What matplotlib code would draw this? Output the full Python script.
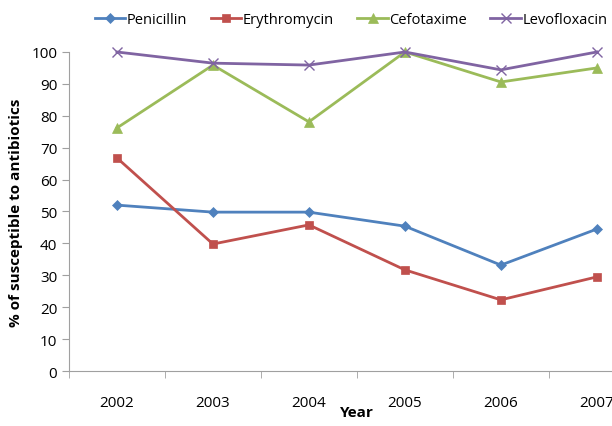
import matplotlib.pyplot as plt
import numpy as np

years = ["2002", "2003", "2004", "2005", "2006", "2007"]
penicillin = [52.0, 49.8, 49.8, 45.4, 33.2, 44.5]
erythromycin = [66.8, 39.8, 45.8, 31.7, 22.3, 29.5]
cefotaxime = [76.2, 95.9, 78.1, 100.0, 90.6, 95.0]
levofloxacin = [100.0, 96.5, 95.9, 100.0, 94.4, 100.0]

plt.rcParams['font.family'] = ['Open Sans', 'DejaVu Sans']

fig = plt.figure(figsize=(6.12, 4.27), dpi=100)
# the plot area runs past the right edge of the figure
ax = fig.add_axes([0.1127, 0.1288, 0.941, 0.7471])

x = np.arange(len(years)) + 1
series = [
    ("Penicillin", penicillin, "#4F81BD", "D", 5),
    ("Erythromycin", erythromycin, "#C0504D", "s", 6),
    ("Cefotaxime", cefotaxime, "#9BBB59", "^", 7),
    ("Levofloxacin", levofloxacin, "#8064A2", "x", 7),
]
for name, vals, col, mk, ms in series:
    ax.plot(x, vals, color=col, lw=2, marker=mk, markersize=ms,
            markeredgewidth=1 if mk == "x" else 0.5, label=name, clip_on=False)

ax.set_xlim(0.5, 6.5)
ax.set_ylim(0, 100)
ax.set_yticks(range(0, 101, 10))
ax.set_xticks(x)
ax.set_xticklabels(years, fontsize=11)
ax.set_xticks(np.arange(0.5, 7, 1), minor=True)
ax.tick_params(axis="x", which="major", length=0, pad=17)
ax.tick_params(axis="x", which="minor", length=5, color="#A0A0A0")
ax.tick_params(axis="y", length=5, color="#A0A0A0", labelsize=11)

for side in ["top", "right"]:
    ax.spines[side].set_visible(False)
for side in ["left", "bottom"]:
    ax.spines[side].set_color("#A0A0A0")

ax.set_ylabel("% of susceptible to antibiotics", fontsize=11, fontweight="bold", labelpad=6)
ax.set_xlabel("Year", fontsize=11, fontweight="bold", labelpad=-3)

ax.legend(loc="center", bbox_to_anchor=(0.49, 1.103), ncol=4, frameon=False,
          fontsize=10.5, handlelength=2.1, columnspacing=1.6, handletextpad=0.1,
          borderpad=0, borderaxespad=0)

fig.savefig("out.png", dpi=100)
